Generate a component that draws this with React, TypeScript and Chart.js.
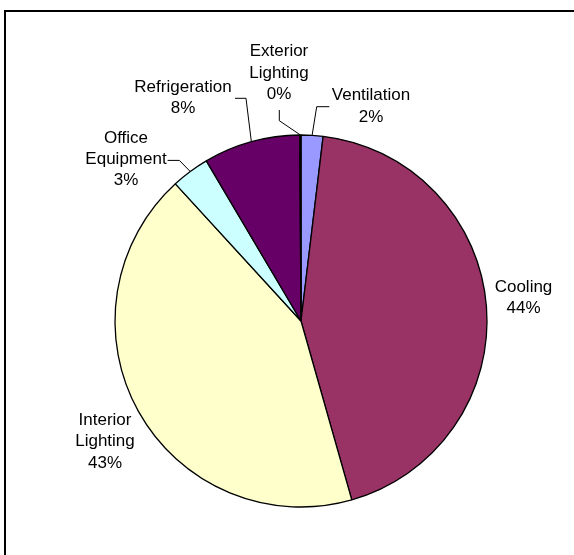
import React, { useEffect, useRef } from "react";
import { Chart, registerables } from "chart.js";

Chart.register(...registerables);

// ---- data ----
const categories = [
  "Ventilation",
  "Cooling",
  "Interior Lighting",
  "Office Equipment",
  "Refrigeration",
  "Exterior Lighting",
];
const labelLines = [
  ["Ventilation"],
  ["Cooling"],
  ["Interior", "Lighting"],
  ["Office", "Equipment"],
  ["Refrigeration"],
  ["Exterior", "Lighting"],
];
const shares = [1.9, 43.7, 42.6, 3.3, 8.4, 0.1];
const colors = ["#9999FF", "#993366", "#FFFFCC", "#CCFFFF", "#660066", "#FF8080"];

// ---- label layout (relative to pie centre) ----
const labelOffsets: number[][] = [
  [70, -225.4],
  [222.5, -33.6],
  [-196, 99.5],
  [-175, -183],
  [-118, -233.6],
  [-22, -269.3],
];
const leaderElbows: (number[][] | null)[] = [
  [[28.3, -214.3], [15.7, -214.3]],
  null,
  null,
  [[-133.4, -160.6], [-121.6, -160.6]],
  [[-66, -222.7], [-55, -222.7]],
  [[-21.7, -211], [-21.7, -200.3]],
];
const LINE_H = 21.3;
const FONT = "17px 'Liberation Sans', Arial, sans-serif";

const framePlugin = {
  id: "frame",
  beforeDraw(chart: any) {
    const ctx = chart.ctx;
    ctx.save();
    ctx.fillStyle = "#ffffff";
    ctx.fillRect(0, 0, chart.width, chart.height);
    ctx.strokeStyle = "#000000";
    ctx.lineWidth = 2;
    ctx.strokeRect(5, 11, chart.width + 50, chart.height + 50);
    ctx.restore();
  },
};

const labelPlugin = {
  id: "pieLabels",
  afterDatasetsDraw(chart: any) {
    const ctx = chart.ctx;
    const meta = chart.getDatasetMeta(0);
    const data = chart.data.datasets[0].data as number[];
    const total = data.reduce((a, b) => a + b, 0);
    ctx.save();
    meta.data.forEach((arc: any, i: number) => {
      const p = arc.getProps(["x", "y", "startAngle", "endAngle", "outerRadius"], true);
      const mid = (p.startAngle + p.endAngle) / 2;
      const ax = p.x + Math.cos(mid) * p.outerRadius;
      const ay = p.y + Math.sin(mid) * p.outerRadius;
      const el = leaderElbows[i];
      if (el) {
        ctx.beginPath();
        ctx.strokeStyle = "#000000";
        ctx.lineWidth = 1;
        ctx.moveTo(p.x + el[0][0], p.y + el[0][1]);
        ctx.lineTo(p.x + el[1][0], p.y + el[1][1]);
        ctx.lineTo(ax, ay);
        ctx.stroke();
      }
      const lines = [...labelLines[i], Math.round((data[i] / total) * 100) + "%"];
      const [dx, dy] = labelOffsets[i];
      ctx.fillStyle = "#000000";
      ctx.font = FONT;
      ctx.textAlign = "center";
      ctx.textBaseline = "middle";
      lines.forEach((t, k) => {
        ctx.fillText(t, p.x + dx, p.y + dy + k * LINE_H);
      });
    });
    ctx.restore();
  },
};

export default function App() {
  const ref = useRef<HTMLCanvasElement | null>(null);
  useEffect(() => {
    if (!ref.current) return;
    const chart = new Chart(ref.current, {
      type: "pie",
      data: {
        labels: categories,
        datasets: [
          {
            data: shares,
            backgroundColor: colors,
            borderColor: "#000000",
            borderWidth: 1.3,
          },
        ],
      },
      options: {
        responsive: false,
        animation: false,
        devicePixelRatio: 1,
        radius: 186,
        layout: { padding: { left: 100, right: 72, top: 130, bottom: 43 } },
        plugins: {
          legend: { display: false },
          tooltip: { enabled: false },
        },
      } as any,
      plugins: [framePlugin, labelPlugin],
    });
    return () => chart.destroy();
  }, []);
  return (
    <div style={{ position: "fixed", left: 0, top: 0, width: 574, height: 555, background: "#fff" }}>
      <canvas ref={ref} width={574} height={555} style={{ display: "block" }} />
    </div>
  );
}
